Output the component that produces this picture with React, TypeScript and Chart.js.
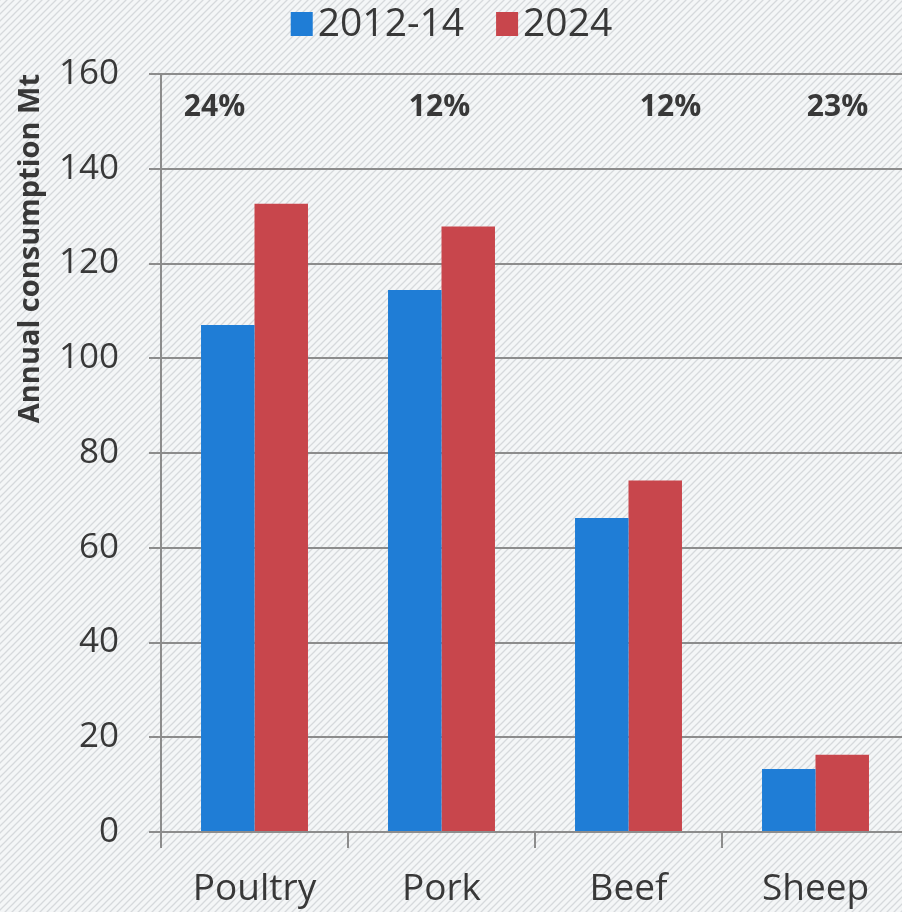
import { useEffect, useRef } from "react";
import { Chart, registerables } from "chart.js";

Chart.register(...registerables);

const categories = ["Poultry", "Pork", "Beef", "Sheep"];
const seriesNames = ["2012-14", "2024"];
const values2012 = [107, 114.4, 66.3, 13.3];
const values2024 = [132.6, 127.8, 74.2, 16.3];
const growthLabels = ["24%", "12%", "12%", "23%"];
const yMin = 0;
const yMax = 160;
const yStep = 20;
const yTitle = "Annual consumption Mt";

const COLORS = ["#1f7dd6", "#c8464c"];
const FONT = "'Open Sans', 'DejaVu Sans', sans-serif";
const TEXT = "#383838";
const GRID = "#8c8c8c";
// visual offsets (px) of the growth labels relative to category centres
const growthOffsets = [-40, -2, 42, 22];

const backgroundPlugin = {
  id: "hatchBackground",
  beforeDraw(chart: any) {
    const { ctx, width, height } = chart;
    const p = document.createElement("canvas");
    p.width = 7;
    p.height = 7;
    const c = p.getContext("2d")!;
    c.fillStyle = "#f4f6f7";
    c.fillRect(0, 0, 7, 7);
    c.strokeStyle = "#d6d9dc";
    c.lineWidth = 1.3;
    c.beginPath();
    c.moveTo(0, 7);
    c.lineTo(7, 0);
    c.moveTo(-1, 1);
    c.lineTo(1, -1);
    c.moveTo(6, 8);
    c.lineTo(8, 6);
    c.stroke();
    ctx.save();
    ctx.fillStyle = ctx.createPattern(p, "repeat");
    ctx.fillRect(0, 0, width, height);
    ctx.restore();
  },
};

const legendPlugin = {
  id: "customLegend",
  afterDraw(chart: any) {
    const { ctx } = chart;
    const ds = chart.data.datasets;
    const box = 22;
    const gap = 5;
    const itemGap = 32;
    ctx.save();
    ctx.font = `39px ${FONT}`;
    const widths = ds.map((d: any) => box + gap + ctx.measureText(d.label).width);
    const total = widths.reduce((a: number, b: number) => a + b, 0) + itemGap * (ds.length - 1);
    let x = chart.width / 2 - total / 2 - 3;
    const cy = 24;
    ctx.textBaseline = "middle";
    ds.forEach((d: any, i: number) => {
      ctx.fillStyle = d.backgroundColor;
      ctx.fillRect(x, cy - 12, box, 24);
      ctx.fillStyle = TEXT;
      ctx.fillText(d.label, x + box + gap, cy + 1);
      x += widths[i] + itemGap;
    });
    ctx.restore();
  },
};

const growthPlugin = {
  id: "growthLabels",
  afterDatasetsDraw(chart: any) {
    const { ctx, chartArea } = chart;
    const xs = chart.scales.x;
    ctx.save();
    ctx.font = `bold 30px ${FONT}`;
    ctx.fillStyle = TEXT;
    ctx.textAlign = "center";
    ctx.textBaseline = "middle";
    growthLabels.forEach((t, i) => {
      ctx.fillText(t, xs.getPixelForValue(i) + growthOffsets[i], chartArea.top + 33);
    });
    ctx.restore();
  },
};

export default function App() {
  const ref = useRef<HTMLCanvasElement | null>(null);

  useEffect(() => {
    if (!ref.current) return;
    const chart = new Chart(ref.current, {
      type: "bar",
      data: {
        labels: categories,
        datasets: [
          { label: seriesNames[0], data: values2012, backgroundColor: COLORS[0] },
          { label: seriesNames[1], data: values2024, backgroundColor: COLORS[1] },
        ],
      },
      options: {
        responsive: false,
        animation: false,
        layout: { padding: { top: 74, left: 0, right: 0, bottom: 0 } },
        datasets: {
          bar: { categoryPercentage: 0.572, barPercentage: 1.0 },
        },
        plugins: {
          legend: { display: false },
          tooltip: { enabled: false },
        },
        scales: {
          x: {
            grid: {
              drawOnChartArea: false,
              drawTicks: true,
              tickLength: 16,
              color: GRID,
              lineWidth: 2,
            },
            border: { display: true, color: GRID, width: 2 },
            ticks: {
              color: TEXT,
              font: { family: FONT, size: 37 },
              padding: 19,
              maxRotation: 0,
            },
            afterFit(scale: any) {
              scale.height = 80;
            },
          },
          y: {
            min: yMin,
            max: yMax,
            grid: {
              color: GRID,
              lineWidth: 2,
              tickLength: 12,
              drawTicks: true,
            },
            border: { display: true, color: GRID, width: 2 },
            ticks: {
              stepSize: yStep,
              color: TEXT,
              font: { family: FONT, size: 35 },
              padding: 30,
            },
            title: {
              display: true,
              text: yTitle,
              align: "end",
              color: TEXT,
              font: { family: FONT, size: 29, weight: "bold" },
              padding: { top: 13, bottom: 0 },
            },
            afterFit(scale: any) {
              scale.width = 161;
            },
          },
        },
      },
      plugins: [backgroundPlugin, growthPlugin, legendPlugin],
    });
    return () => chart.destroy();
  }, []);

  return (
    <div
      style={{
        position: "fixed",
        left: 0,
        top: 0,
        width: 902,
        height: 912,
        overflow: "hidden",
      }}
    >
      <canvas ref={ref} width={909} height={912} style={{ display: "block" }} />
    </div>
  );
}
